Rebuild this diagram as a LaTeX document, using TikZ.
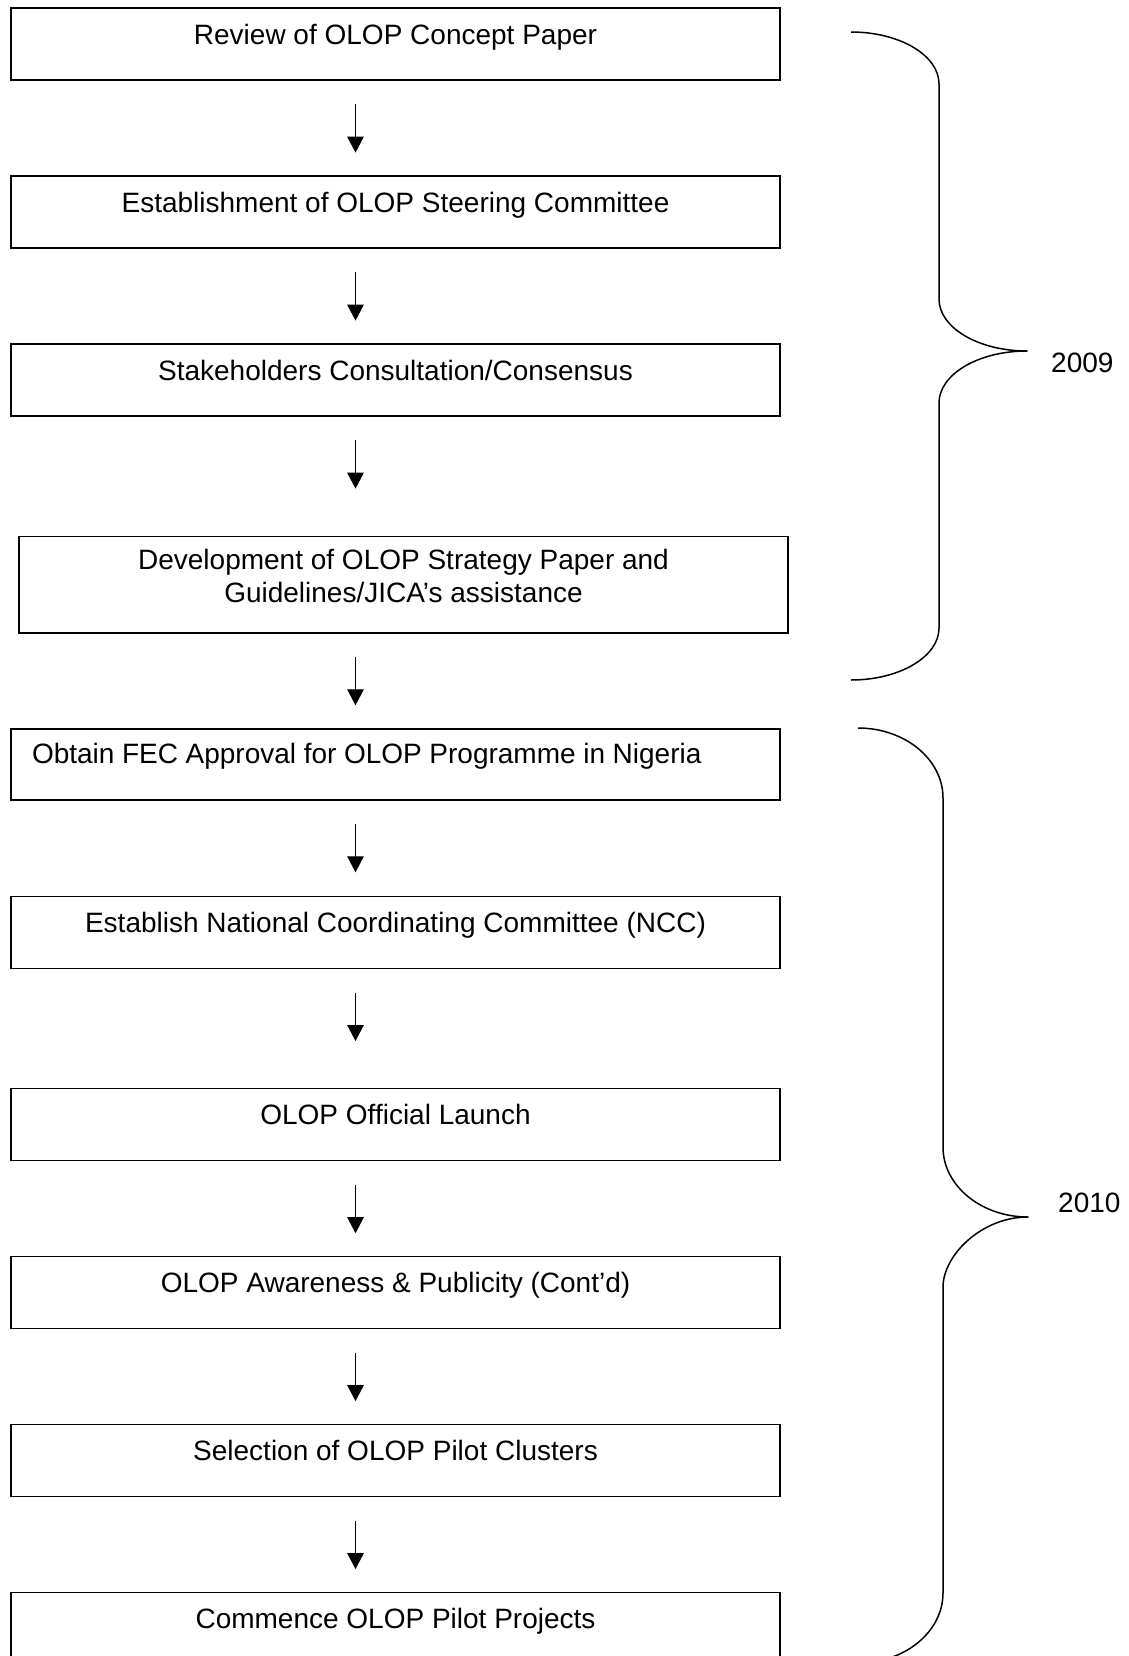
\documentclass[tikz,border=0pt]{standalone}
\usepackage{fontspec}
\setmainfont{Liberation Sans}
\usetikzlibrary{arrows.meta,calc}

\tikzset{
  stepbox/.style={draw, line width=1.5pt, anchor=north,
    minimum width=769pt, inner xsep=0pt, inner ysep=0pt,
    text height=36pt, text depth=36pt,
    font=\fontsize{28}{33}\selectfont},
  flowarrow/.style={line width=1.3pt,
    -{Triangle[length=16pt,width=16.5pt]}},
  bracket/.style={line width=1.5pt, line join=round},
  yearlabel/.style={anchor=base west, inner sep=0pt,
    font=\fontsize{28}{33}\selectfont}
}

\begin{document}
\begin{tikzpicture}[x=1pt,y=-1pt]
  \useasboundingbox (0,0) rectangle (1128,1656);
  \clip (0,0) rectangle (1128,1656);
  \fill[white] (0,0) rectangle (1128,1656);

  % column of arrows
  \coordinate (ax) at (355.5,0);

  % process steps
  \node[stepbox] (b1) at (395.5,7.3) {Review of OLOP Concept Paper};
  \node[stepbox] (b2) at (395.5,175.3) {Establishment of OLOP Steering Committee};
  \node[stepbox] (b3) at (395.5,343.3) {Stakeholders Consultation/Consensus};
  \node[stepbox, text height=33pt, text depth=63.5pt] (b4) at (403.5,535.5)
    {\begin{tabular}[t]{@{}c@{}}Development of OLOP Strategy Paper and\\Guidelines/JICA’s assistance\end{tabular}};
  \node[stepbox, text width=727pt, inner xsep=21pt, align=left, text height=35pt, text depth=36pt] (b5) at (395.5,728)
    {\spaceskip=7.6pt\relax Obtain FEC Approval for OLOP Programme in Nigeria};
  \node[stepbox] (b6) at (395.5,895.7) {Establish National Coordinating Committee (NCC)};
  \node[stepbox] (b7) at (395.5,1087.9) {OLOP Official Launch};
  \node[stepbox] (b8) at (395.5,1255.8) {OLOP Awareness \& Publicity (Cont’d)};
  \node[stepbox] (b9) at (395.5,1423.8) {Selection of OLOP Pilot Clusters};
  \node[stepbox] (b10) at (395.5,1591.7) {Commence OLOP Pilot Projects};

  % arrows between steps
  \foreach \a in {1,...,9} {
    \draw[flowarrow] ($(b\a.south -| ax)+(0,23.3)$) -- ++(0,48.5);
  }

  % brace for 2009
  \draw[bracket] (851,32)
    .. controls (899.6,32) and (939,55.3) .. (939,84)
    -- (939,299)
    .. controls (939,327.7) and (978.4,351) .. (1027,351)
    .. controls (978.4,351) and (939,374.3) .. (939,403)
    -- (939,628)
    .. controls (939,656.7) and (899.6,680) .. (851,680);
  \node[yearlabel] (y2009) at (1051,372) {2009};

  % brace for 2010
  \draw[bracket] (858,728)
    .. controls (904.9,728) and (943,759.3) .. (943,798)
    -- (943,1147)
    .. controls (943,1185.7) and (981.1,1217) .. (1028,1217)
    .. controls (981.1,1217) and (943,1255.7) .. (943,1287)
    -- (943,1593)
    .. controls (943,1631.7) and (904.9,1663) .. (858,1663);
  \node[yearlabel] (y2010) at (1058,1212) {2010};
\end{tikzpicture}
\end{document}
